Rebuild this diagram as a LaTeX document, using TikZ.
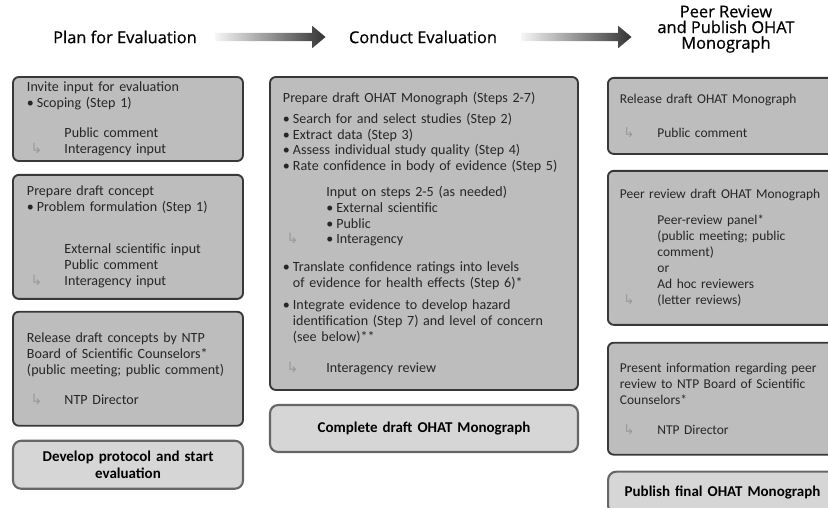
\documentclass[tikz,border=0pt]{standalone}
\usepackage{fontspec}
\setmainfont{Carlito}
\newfontfamily\headfont[FakeBold=0.6]{Open Sans}
\newfontfamily\symfont{DejaVu Sans}
\usetikzlibrary{positioning,shapes.arrows}
\begin{document}
\begin{tikzpicture}[x=0.03cm,y=-0.03cm,
	box/.style={draw=black!78,line width=1.6pt,fill=black!26,rounded corners=5pt,align=left,text width=#1,inner xsep=0.42cm,inner ysep=0pt,font=\fontsize{12}{13.6}\selectfont,text=black!85},
	endbox/.style={draw=black!60,line width=1.8pt,fill=black!16,rounded corners=7pt,align=center,text width=#1,inner xsep=0.42cm,font=\fontsize{12.8}{14.5}\selectfont\bfseries},
	head/.style={font=\headfont\fontsize{14}{13.4}\selectfont,align=center},
	hdarrow/.style={single arrow,minimum height=3.3cm,inner sep=0.12cm,single arrow head extend=0.21cm,single arrow tip angle=80,left color=black!4,right color=black!80}]
	\def\bul{\makebox[8.5pt][l]{\textbullet}}
	\def\hang{\hspace*{8.5pt}}
	\def\ind{\hspace*{32pt}}
	\def\indm{\hspace*{37pt}}
	\def\arr{\makebox[32pt][l]{\hspace*{3pt}\textcolor{black!40}{\symfont ↳}}}
	\def\arrm{\makebox[37pt][l]{\hspace*{3pt}\textcolor{black!40}{\symfont ↳}}}
	\useasboundingbox (0,0) rectangle (828,508);
	
	\node[head] (plan) at (125,37) {Plan for Evaluation};
	\node[head] (conduct) at (423,37) {Conduct Evaluation};
	\node[head] (publish) at (726,29) {Peer Review\\and Publish OHAT\\Monograph};
	\node[hdarrow] (arri) at (268,37) {};
	\node[hdarrow] (arrii) at (574,37) {};
	
	\node[box=6.06cm,minimum height=2.52cm] (invite) at (128,119) {Invite input for evaluation\\
		\bul Scoping (Step 1)\\[12pt]
		\ind Public comment\\
		\arr Interagency input};
	\node[box=6.06cm,minimum height=3.72cm,below=0.36cm of invite] (concept) {Prepare draft concept\\
		\bul Problem formulation (Step 1)\\[22pt]
		\ind External scientific input\\
		\ind Public comment\\
		\arr Interagency input};
	\node[box=6.06cm,minimum height=3.42cm,below=0.33cm of concept] (bsc) {Release draft concepts by NTP\\
		Board of Scientific Counselors*\\
		(public meeting; public comment)\\[12pt]
		\arr NTP Director};
	\node[endbox=6.06cm,minimum height=1.44cm,below=0.39cm of bsc] (protocol) {Develop protocol and start\\evaluation};
	
	\node[box=8.46cm,inner xsep=0.39cm,minimum height=9.39cm] (draft) at (424,233.5) {Prepare draft OHAT Monograph (Steps 2-7)\\[4pt]
		\bul Search for and select studies (Step 2)\\
		\bul Extract data (Step 3)\\
		\bul Assess individual study quality (Step 4)\\
		\bul Rate confidence in body of evidence (Step 5)\\[8pt]
		\indm Input on steps 2-5 (as needed)\\
		\indm\bul External scientific\\
		\indm\bul Public\\
		\arrm\bul Interagency\\[10pt]
		\bul Translate confidence ratings into levels\\
		\hang of evidence for health effects (Step 6)*\\[5pt]
		\bul Integrate evidence to develop hazard\\
		\hang identification (Step 7) and level of concern\\
		\hang (see below)**\\[13pt]
		\arrm Interagency review};
	\node[endbox=8.46cm,inner xsep=0.39cm,minimum height=1.41cm,below=0.39cm of draft] (complete) {Complete draft OHAT Monograph};
	
	\node[box=7.2cm,inner xsep=0.36cm,font=\fontsize{11.5}{13.6}\selectfont,minimum height=2.28cm,anchor=north west] (relmono) at (607,77) {Release draft OHAT Monograph\\[16pt]
		\arr Public comment};
	\node[box=7.2cm,inner xsep=0.36cm,font=\fontsize{11.5}{13.6}\selectfont,minimum height=4.62cm,below=0.45cm of relmono] (peer) {Peer review draft OHAT Monograph\\[9pt]
		\ind Peer-review panel*\\
		\ind (public meeting; public\\
		\ind comment)\\
		\ind or\\
		\ind Ad hoc reviewers\\
		\arr (letter reviews)};
	\node[box=7.2cm,inner xsep=0.36cm,font=\fontsize{11.5}{13.6}\selectfont,minimum height=3.36cm,below=0.48cm of peer] (present) {Present information regarding peer\\
		review to NTP Board of Scientific\\
		Counselors*\\[12pt]
		\arr NTP Director};
	\node[endbox=6.03cm,minimum height=1.26cm,below right=0.45cm and 0cm of present.south west] (final) {Publish final OHAT Monograph};
\end{tikzpicture}
\end{document}
